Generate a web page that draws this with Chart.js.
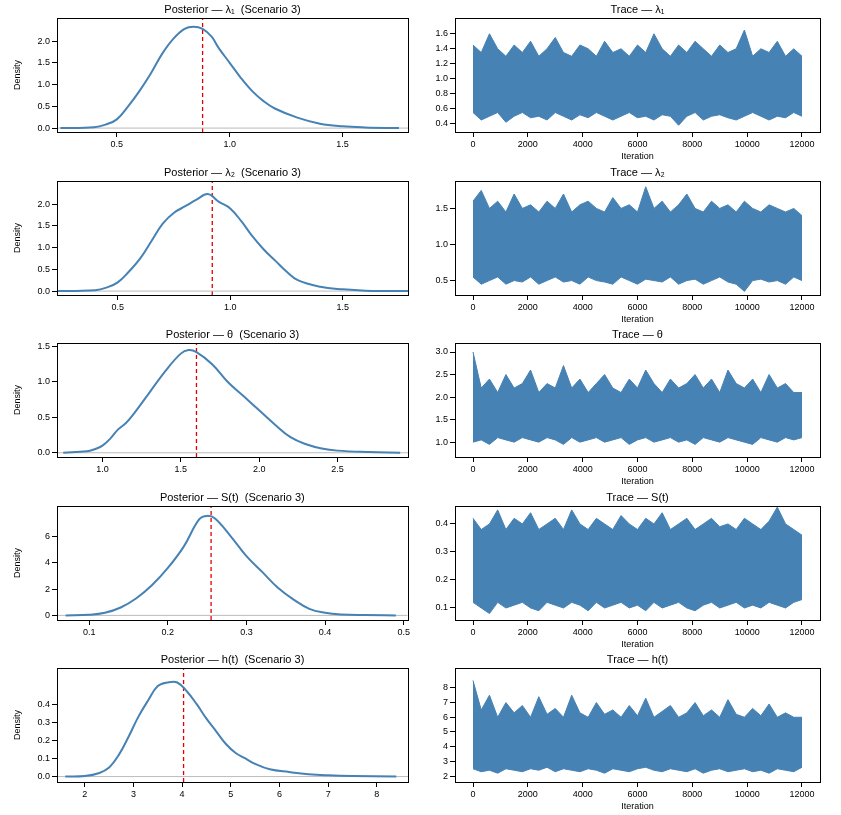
<!DOCTYPE html>
<html><head><meta charset="utf-8">
<script src="https://cdn.jsdelivr.net/npm/chart.js@4"></script>
<style>body{margin:0;background:#fff;width:841px;height:815px;position:relative;overflow:hidden}
.p{position:absolute}</style></head><body>
<script>
// ---- density data ----
const d1x=[0.25,0.4,0.45,0.5,0.55,0.6,0.65,0.7,0.75,0.8,0.84,0.88,0.92,0.95,1.0,1.05,1.1,1.15,1.2,1.3,1.4,1.5,1.6,1.75];
const d1y=[0,0.02,0.08,0.2,0.5,0.85,1.25,1.7,2.05,2.28,2.33,2.28,2.1,1.85,1.5,1.15,0.85,0.62,0.45,0.24,0.1,0.04,0.015,0];
const d2x=[0.2,0.4,0.45,0.5,0.55,0.6,0.65,0.7,0.75,0.8,0.85,0.9,0.95,1.0,1.05,1.1,1.15,1.2,1.25,1.3,1.4,1.5,1.6,1.85];
const d2y=[0,0.02,0.08,0.2,0.45,0.75,1.15,1.55,1.8,1.95,2.1,2.23,2.05,1.9,1.6,1.25,0.95,0.7,0.45,0.25,0.1,0.04,0.01,0];
const d3x=[0.75,0.9,0.95,1.0,1.05,1.1,1.15,1.2,1.3,1.4,1.5,1.55,1.6,1.7,1.8,1.9,2.0,2.1,2.2,2.3,2.4,2.5,2.7,2.9];
const d3y=[0,0.02,0.05,0.1,0.2,0.33,0.42,0.55,0.85,1.15,1.4,1.45,1.42,1.25,1.0,0.8,0.6,0.4,0.22,0.12,0.06,0.03,0.01,0];
const d4x=[0.07,0.1,0.12,0.14,0.16,0.18,0.2,0.22,0.24,0.25,0.26,0.28,0.3,0.32,0.34,0.36,0.38,0.4,0.42,0.45,0.49];
const d4y=[0,0.05,0.2,0.6,1.3,2.3,3.6,5.2,7.3,7.55,7.35,6.0,4.5,3.3,2.1,1.2,0.5,0.2,0.07,0.02,0];
const d5x=[1.6,2.0,2.3,2.5,2.7,2.9,3.1,3.3,3.5,3.7,3.9,4.1,4.3,4.5,4.7,4.9,5.1,5.3,5.5,5.8,6.2,6.6,7.0,7.5,8.4];
const d5y=[0,0.003,0.02,0.05,0.12,0.22,0.33,0.42,0.5,0.52,0.52,0.47,0.4,0.32,0.25,0.18,0.13,0.1,0.07,0.04,0.025,0.013,0.007,0.003,0];
const means=[0.88,0.92,1.6,0.255,4.03];
// ---- trace envelopes (every 300 iterations) ----
const iterations=Array.from({length:41},(_,i)=>i*300);
const t1hi=[1.45,1.35,1.6,1.4,1.3,1.45,1.35,1.5,1.3,1.4,1.55,1.35,1.3,1.45,1.4,1.3,1.5,1.35,1.4,1.3,1.45,1.35,1.6,1.4,1.3,1.45,1.35,1.5,1.4,1.3,1.45,1.35,1.4,1.65,1.3,1.4,1.35,1.5,1.3,1.4,1.3];
const t1lo=[0.55,0.45,0.5,0.55,0.42,0.5,0.55,0.48,0.5,0.45,0.55,0.5,0.45,0.52,0.48,0.55,0.5,0.45,0.5,0.55,0.48,0.5,0.45,0.52,0.5,0.38,0.5,0.55,0.45,0.5,0.52,0.48,0.45,0.5,0.55,0.5,0.45,0.5,0.48,0.55,0.5];
const t2hi=[1.6,1.75,1.5,1.6,1.45,1.7,1.5,1.55,1.45,1.6,1.5,1.7,1.45,1.55,1.6,1.5,1.45,1.65,1.5,1.55,1.45,1.8,1.5,1.6,1.45,1.55,1.7,1.5,1.45,1.6,1.5,1.55,1.45,1.6,1.5,1.45,1.55,1.5,1.45,1.5,1.4];
const t2lo=[0.55,0.45,0.5,0.55,0.45,0.5,0.48,0.55,0.45,0.5,0.55,0.48,0.5,0.45,0.55,0.5,0.48,0.45,0.55,0.5,0.45,0.52,0.5,0.48,0.55,0.45,0.5,0.52,0.45,0.5,0.55,0.48,0.45,0.35,0.5,0.52,0.48,0.5,0.45,0.55,0.5];
const t3hi=[3.0,2.2,2.4,2.1,2.5,2.2,2.3,2.6,2.1,2.3,2.2,2.7,2.2,2.4,2.1,2.3,2.5,2.2,2.1,2.4,2.2,2.6,2.3,2.1,2.4,2.2,2.3,2.5,2.2,2.4,2.1,2.6,2.3,2.2,2.4,2.1,2.5,2.2,2.3,2.1,2.1];
const t3lo=[1.0,1.05,0.95,1.1,1.05,1.0,1.1,1.05,1.0,1.1,1.05,0.95,1.1,1.0,1.05,1.1,1.0,1.05,1.1,0.95,1.05,1.1,1.0,1.05,1.1,1.0,1.05,0.95,1.1,1.05,1.0,1.1,1.05,1.0,0.95,1.1,1.05,1.0,1.1,1.05,1.1];
const t4hi=[0.42,0.38,0.4,0.45,0.38,0.42,0.4,0.44,0.38,0.4,0.42,0.38,0.45,0.4,0.38,0.42,0.4,0.38,0.43,0.4,0.38,0.42,0.4,0.44,0.38,0.4,0.42,0.38,0.4,0.42,0.39,0.4,0.38,0.42,0.4,0.38,0.41,0.46,0.4,0.38,0.36];
const t4lo=[0.12,0.1,0.08,0.12,0.1,0.11,0.12,0.1,0.09,0.12,0.11,0.1,0.12,0.11,0.09,0.12,0.1,0.11,0.12,0.1,0.11,0.09,0.12,0.1,0.11,0.12,0.1,0.09,0.11,0.12,0.1,0.11,0.12,0.1,0.11,0.1,0.12,0.11,0.1,0.12,0.13];
const t5hi=[8.5,6.5,7.5,6.0,7.0,6.3,6.8,6.0,7.4,6.2,6.6,6.0,7.5,6.3,6.0,7.0,6.2,6.5,6.0,6.8,6.1,7.3,6.0,6.4,6.8,6.0,6.3,7.0,6.1,6.5,6.0,7.2,6.2,6.0,6.6,6.1,6.9,6.0,6.3,6.0,6.0];
const t5lo=[2.5,2.3,2.4,2.2,2.5,2.4,2.3,2.5,2.4,2.6,2.3,2.5,2.4,2.3,2.5,2.4,2.2,2.5,2.4,2.3,2.5,2.6,2.4,2.3,2.5,2.4,2.3,2.5,2.2,2.4,2.5,2.3,2.4,2.5,2.3,2.4,2.2,2.5,2.4,2.3,2.6];
// ---- ticks / ranges ----
const dXt=[[0.5,1.0,1.5],[0.5,1.0,1.5],[1.0,1.5,2.0,2.5],[0.1,0.2,0.3,0.4,0.5],[2,3,4,5,6,7,8]];
const dXdec=[1,1,1,1,0];
const dYt=[[0,0.5,1,1.5,2],[0,0.5,1,1.5,2],[0,0.5,1,1.5],[0,2,4,6],[0,0.1,0.2,0.3,0.4]];
const dYdec=[1,1,1,0,1];
const dXr=[[0.235,1.79],[0.23,1.79],[0.71,2.95],[0.059,0.505],[1.43,8.64]];
const dYr=[[-0.09,2.53],[-0.09,2.53],[-0.06,1.55],[-0.35,8.3],[-0.03,0.6]];
const tYt=[[0.4,0.6,0.8,1.0,1.2,1.4,1.6],[0.5,1.0,1.5],[1.0,1.5,2.0,2.5,3.0],[0.1,0.2,0.3,0.4],[2,3,4,5,6,7,8]];
const tYdec=[1,1,1,1,0];
const tYr=[[0.29,1.81],[0.3,1.88],[0.67,3.2],[0.057,0.464],[1.6,9.35]];
const tXt=[0,2000,4000,6000,8000,10000,12000];
const names=['λ₁','λ₂','θ','S(t)','h(t)'];

const dens=[[d1x,d1y],[d2x,d2y],[d3x,d3y],[d4x,d4y],[d5x,d5y]];
const traces=[[t1hi,t1lo],[t2hi,t2lo],[t3hi,t3lo],[t4hi,t4lo],[t5hi,t5lo]];
const rowTops=[18,181,343,506,668];
Chart.defaults.font.family='"Liberation Sans", Arial, sans-serif';
Chart.defaults.color='#000';
Chart.defaults.animation=false;

const boxTitle={id:'boxTitle',afterDraw(c,a,o){const {ctx,chartArea:ca}=c;ctx.save();ctx.strokeStyle='#000';ctx.lineWidth=1;
 ctx.strokeRect(Math.round(ca.left)+0.5,Math.round(ca.top)+0.5,Math.round(ca.width),Math.round(ca.height));
 ctx.font='11px "Liberation Sans", Arial';ctx.textAlign='center';ctx.fillStyle='#000';ctx.fillText(o.text,(ca.left+ca.right)/2,ca.top-5);ctx.restore();}};

function axisX(ticks,r,title,h,dec){return {type:'linear',min:r[0],max:r[1],
  afterBuildTicks:s=>{s.ticks=ticks.map(v=>({value:v}));},afterFit:s=>{s.height=h;},
  grid:{drawOnChartArea:false,drawTicks:true,tickLength:5,color:'#000'},border:{display:false},
  ticks:{font:{size:9},maxRotation:0,padding:2,callback:v=>v.toFixed(dec)},
  title:{display:!!title,text:title,font:{size:9},padding:{top:0,bottom:0}}};}
function axisY(ticks,r,title,w,dec){return {type:'linear',min:r[0],max:r[1],
  afterBuildTicks:s=>{s.ticks=ticks.map(v=>({value:v}));},afterFit:s=>{s.width=w;},
  grid:{drawOnChartArea:false,drawTicks:true,tickLength:5,color:'#000'},border:{display:false},
  ticks:{font:{size:9},padding:2,callback:v=>v.toFixed(dec)},
  title:{display:!!title,text:title,font:{size:9},padding:0}};}

function mk(left,top,w,h){const d=document.createElement('div');d.className='p';
 Object.assign(d.style,{left:left+'px',top:top+'px',width:w+'px',height:h+'px'});
 const c=document.createElement('canvas');d.appendChild(c);document.body.appendChild(d);return c;}

for(let i=0;i<5;i++){
 const [xs,ys]=dens[i];
 const c1=mk(12,rowTops[i]-22,400,164);
 new Chart(c1,{type:'scatter',data:{datasets:[
   {data:xs.map((x,k)=>({x,y:ys[k]})),showLine:true,borderColor:'#4682B4',borderWidth:2,pointRadius:0,tension:0.4},
   {data:[{x:dXr[i][0],y:0},{x:dXr[i][1],y:0}],showLine:true,borderColor:'#bbb',borderWidth:1,pointRadius:0},
   {data:[{x:means[i],y:dYr[i][0]},{x:means[i],y:dYr[i][1]}],showLine:true,borderColor:'#e00000',borderWidth:1.3,borderDash:[4,3],pointRadius:0}]},
  options:{responsive:true,maintainAspectRatio:false,layout:{padding:{top:22,right:4,left:0,bottom:0}},
   plugins:{legend:{display:false},tooltip:{enabled:false},boxTitle:{text:'Posterior — '+names[i]+'  (Scenario 3)'}},
   scales:{x:axisX(dXt[i],dXr[i],'',28,dXdec[i]),y:axisY(dYt[i],dYr[i],'Density',45,dYdec[i])}},plugins:[boxTitle]});
 const [hi,lo]=traces[i];
 const c2=mk(415,rowTops[i]-22,409,166);
 new Chart(c2,{type:'line',data:{datasets:[
   {data:iterations.map((x,k)=>({x,y:hi[k]})),borderColor:'#4682B4',backgroundColor:'#4682B4',borderWidth:1,pointRadius:0,fill:'+1'},
   {data:iterations.map((x,k)=>({x,y:lo[k]})),borderColor:'#4682B4',borderWidth:1,pointRadius:0,fill:false}]},
  options:{responsive:true,maintainAspectRatio:false,layout:{padding:{top:22,right:4,left:0,bottom:0}},
   plugins:{legend:{display:false},tooltip:{enabled:false},boxTitle:{text:'Trace — '+names[i]}},
   scales:{x:axisX(tXt,[-657,12657],'Iteration',30,0),y:axisY(tYt[i],tYr[i],'',40,tYdec[i])}},plugins:[boxTitle]});
}
</script></body></html>
